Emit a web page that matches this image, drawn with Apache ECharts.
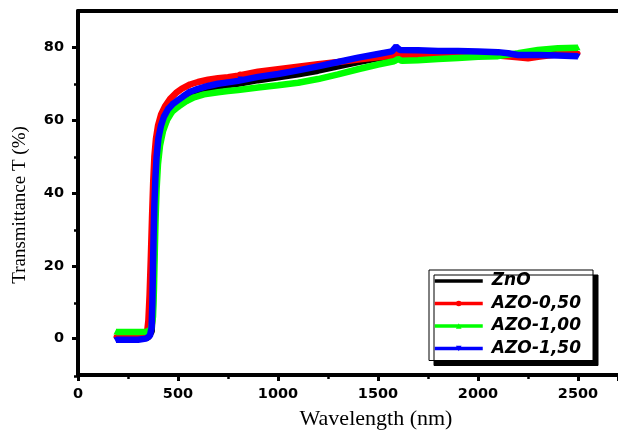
<!DOCTYPE html>
<html>
<head>
<meta charset="utf-8">
<script src="https://cdn.jsdelivr.net/npm/echarts@6/dist/echarts.min.js"></script>
<style>html,body{margin:0;padding:0;background:#fff}#c{width:618px;height:435px}</style>
</head>
<body>
<div id="c"></div>
<script>
var seriesNames = ['ZnO', 'AZO-0,50', 'AZO-1,00', 'AZO-1,50'];
var seriesColors = ['#000000', '#ff0000', '#00ff00', '#0000ff'];
var xTicks = [0, 500, 1000, 1500, 2000, 2500];
var xMinorTicks = [250, 750, 1250, 1750, 2250];
var yTicks = [0, 20, 40, 60, 80];
var yMinorTicks = [-10, 10, 30, 50, 70];

var znO = [[190,0],[250,0],[300,0],[350,0.3],[368,2],[374,8],[378,18],[382,28],[386,37],[391,45],[398,51],[410,55.5],[425,58.8],[445,61.5],[470,63.5],[500,65],[540,66.5],[580,67.6],[630,68.5],[700,69.3],[800,70.0],[810,70.3],[900,71.0],[1000,71.8],[1100,72.6],[1200,73.6],[1300,74.8],[1400,76.0],[1500,77.0],[1580,77.6],[1600,78.0],[1700,78.2],[1800,78.3],[1900,78.3],[2000,78.3],[2100,78.2],[2200,77.5],[2300,77.8],[2400,78.3],[2500,78.6]];
var azo050 = [[190,0.5],[250,0.5],[300,0.5],[330,0.6],[345,1.5],[352,5],[358,12],[364,22],[370,33],[376,43],[382,50],[390,55],[400,58.5],[415,61.5],[435,63.8],[460,65.8],[490,67.5],[520,68.7],[560,69.8],[600,70.5],[650,71.1],[700,71.5],[750,71.8],[800,72.2],[810,72.7],[900,73.3],[1000,74.0],[1100,74.7],[1200,75.4],[1300,76.0],[1400,76.7],[1500,77.3],[1580,77.8],[1600,78.3],[1620,77.8],[1700,77.9],[1800,77.9],[1900,78.0],[2000,78.0],[2100,77.8],[2200,77.3],[2250,77.0],[2300,77.4],[2400,78.1],[2500,78.4]];
var azo100 = [[190,1.8],[250,1.8],[300,1.8],[345,1.9],[365,2.5],[375,6],[380,14],[384,24],[388,33],[393,41],[400,48],[410,53],[425,57],[445,60],[470,62.3],[500,63.7],[540,65.2],[580,66.3],[630,67.1],[700,67.7],[750,68.0],[800,68.3],[810,68.6],[900,69.0],[1000,69.6],[1100,70.3],[1200,71.3],[1300,72.6],[1400,74.0],[1500,75.3],[1580,76.2],[1600,76.8],[1620,76.3],[1700,76.5],[1800,76.8],[1900,77.1],[2000,77.4],[2100,77.6],[2200,78.4],[2300,79.3],[2400,79.8],[2500,79.9]];
var azo150 = [[190,-0.3],[250,-0.3],[300,-0.3],[340,0],[360,0.8],[368,3],[372,10],[375,20],[378,28],[382,37],[387,44],[393,50],[402,55],[415,58.5],[430,61],[450,63],[475,64.5],[500,65.5],[530,66.7],[560,67.8],[600,68.6],[650,69.4],[700,70.0],[750,70.4],[800,70.8],[810,71.3],[900,71.9],[1000,72.7],[1100,73.7],[1200,74.8],[1300,76.0],[1400,77.2],[1500,78.2],[1570,78.9],[1590,80.2],[1610,79.3],[1700,79.2],[1800,79.0],[1900,79.0],[2000,78.9],[2100,78.7],[2150,78.4],[2200,77.9],[2300,77.9],[2400,77.8],[2500,77.6]];

var dataSets = [znO, azo050, azo100, azo150];
var symbols = ['none', 'circle', 'triangle', 'triangle'];
var rotations = [0, 0, 0, 180];

var chart = echarts.init(document.getElementById('c'), null, {renderer: 'canvas'});
var tickFont = {fontFamily: 'DejaVu Sans', fontWeight: 'bold', fontSize: 14.5, color: '#000'};
var gridBox = {left: 78, right: -2, top: 11, bottom: 59, containLabel: false};

var series = dataSets.map(function (d, i) {
  return {
    name: seriesNames[i],
    type: 'line',
    z: 2 + i,
    xAxisIndex: 0, yAxisIndex: 0,
    data: d,
    symbol: symbols[i],
    symbolSize: 5,
    symbolRotate: rotations[i],
    showAllSymbol: true,
    color: seriesColors[i],
    lineStyle: {width: 6.5, color: seriesColors[i]},
    itemStyle: {color: seriesColors[i]},
    animation: false
  };
});

var legendData = seriesNames.map(function (n, i) {
  return i === 0 ? {name: n, itemStyle: {opacity: 0}} : {name: n};
});

chart.setOption({
  animation: false,
  grid: [Object.assign({}, gridBox), Object.assign({}, gridBox)],
  legend: {
    orient: 'vertical',
    left: 429, top: 270,
    z: 20,
    padding: [1, 12, 2, 4],
    itemGap: 2.5,
    itemWidth: 48,
    itemHeight: 7,
    backgroundColor: '#fff',
    borderColor: '#000',
    borderWidth: 1,
    borderRadius: 0,
    shadowColor: '#000',
    shadowBlur: 0,
    shadowOffsetX: 5,
    shadowOffsetY: 5,
    lineStyle: {width: 3.5},
    textStyle: {fontFamily: 'DejaVu Sans', fontWeight: 'bold', fontStyle: 'italic', fontSize: 17, color: '#000', lineHeight: 20, padding: [0, 0, 0, 4]},
    data: legendData
  },
  xAxis: [{
    gridIndex: 0,
    type: 'value', min: 0, max: 2700, interval: 500, position: 'bottom',
    name: 'Wavelength (nm)', nameLocation: 'middle', nameGap: 33,
    nameTextStyle: {fontFamily: 'Liberation Serif', fontSize: 22, color: '#000', padding: [0, 0, 0, 56]},
    axisLine: {show: true, onZero: false, lineStyle: {color: '#000', width: 4}},
    axisTick: {show: true, inside: false, length: 6, lineStyle: {color: '#000', width: 3}},
    minorTick: {show: true, splitNumber: 2, length: 4, lineStyle: {color: '#000', width: 2.5}},
    axisLabel: Object.assign({margin: 12, showMaxLabel: false, formatter: function (v) { return xTicks.indexOf(v) >= 0 ? String(v) : ''; }}, tickFont),
    splitLine: {show: false}
  }, {
    gridIndex: 0,
    type: 'value', min: 0, max: 2700, position: 'top',
    axisLine: {show: true, onZero: false, lineStyle: {color: '#000', width: 4}},
    axisTick: {show: false},
    axisLabel: {show: false},
    splitLine: {show: false}
  }, {
    gridIndex: 1,
    type: 'value', min: 0, max: 2700, position: 'bottom',
    axisLine: {show: false, onZero: false},
    axisTick: {show: false},
    axisLabel: {show: false},
    splitLine: {show: false}
  }],
  yAxis: [{
    gridIndex: 0,
    type: 'value', min: -10, max: 90, position: 'left',
    name: 'Transmittance T (%)', nameLocation: 'middle', nameGap: 48,
    nameTextStyle: {fontFamily: 'Liberation Serif', fontSize: 19, color: '#000', padding: [0, 24, 0, 0]},
    axisLine: {show: true, onZero: false, lineStyle: {color: '#000', width: 4}},
    axisTick: {show: true, length: 6, lineStyle: {color: '#000', width: 3}, customValues: yTicks},
    axisLabel: Object.assign({margin: 14, customValues: yTicks}, tickFont),
    splitLine: {show: false}
  }, {
    gridIndex: 1,
    type: 'value', min: -10, max: 90, position: 'left',
    axisLine: {show: false, onZero: false},
    axisTick: {show: true, length: 4, lineStyle: {color: '#000', width: 2.5}, customValues: yMinorTicks},
    axisLabel: {show: false},
    splitLine: {show: false}
  }],
  series: series
});
</script>
</body>
</html>
